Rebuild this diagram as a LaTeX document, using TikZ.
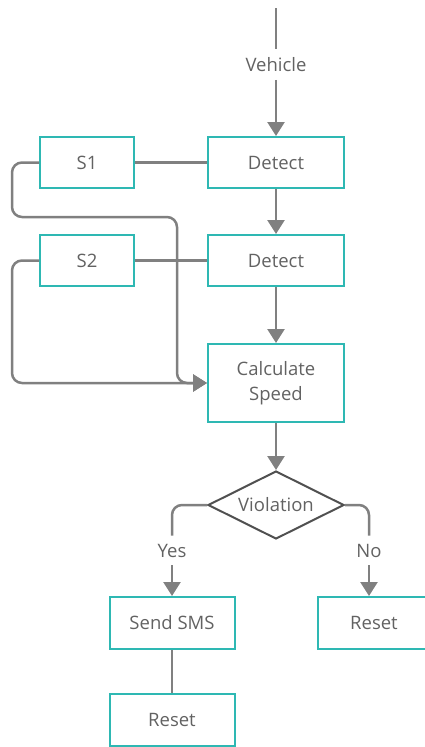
\documentclass[tikz,border=0pt]{standalone}
\usepackage{fontspec}
\setmainfont{Open Sans}
\usetikzlibrary{shapes.geometric, arrows.meta, positioning}
\definecolor{boxteal}{RGB}{46,184,179}
\definecolor{linegray}{RGB}{128,128,128}
\definecolor{textgray}{RGB}{98,98,98}
\definecolor{diagray}{RGB}{80,80,80}

\begin{document}
\begin{tikzpicture}[
    x=1pt, y=-1pt,
    font=\fontsize{18.5}{25}\selectfont,
    text=textgray,
    box/.style={rectangle, draw=boxteal, line width=2pt, minimum width=136pt, minimum height=51pt, text centered, align=center},
    sensor/.style={box, minimum width=94pt},
    decision/.style={diamond, draw=diagray, line width=2pt, aspect=2, inner sep=0pt, minimum width=136pt, minimum height=68pt},
    lbl/.style={inner sep=8pt},
    link/.style={draw=linegray, line width=2.5pt},
    arrow/.style={link, -{Triangle[width=17pt,length=14pt]}}
]
\useasboundingbox (0,0) rectangle (425,747);

% Main column
\node[box] (det1) at (276,162.5) {Detect};
\node[box, below=45pt of det1] (det2) {Detect};
\node[box, minimum height=78pt, below=56pt of det2] (calc) {Calculate\\Speed};
\node[decision, below=47pt of calc] (viol) {Violation};

% Sensors
\node[sensor, left=72pt of det1] (s1) {S1};
\node[sensor, left=72pt of det2] (s2) {S2};

% Outcomes
\node[box, minimum width=125pt, minimum height=52pt, below=56pt of viol, xshift=-104pt] (sms) {Send SMS};
\node[box, minimum width=112pt, minimum height=52pt, below=56pt of viol, xshift=98pt] (reset1) {Reset};
\node[box, minimum width=125pt, minimum height=52pt, below=43pt of sms] (reset2) {Reset};

% Labels on the lines
\coordinate (top) at (276,8);
\node[lbl] (veh) at (276,64.5) {Vehicle};
\node[lbl] (yes) at (172,550.5) {Yes};
\node[lbl] (no) at (369,550.5) {No};
\coordinate (s1turn) at (12,217);

% Arrows
\draw[link] (top) -- (veh);
\draw[arrow] (veh) -- (det1);
\draw[arrow] (det1) -- (det2);
\draw[arrow] (det2) -- (calc);
\draw[arrow] (calc) -- (viol);
\draw[link] (s1) -- (det1);
\draw[link] (s2) -- (det2);
\draw[arrow, rounded corners=10pt] (s1.west) -| (s1turn) -| ([xshift=-30pt]calc.west) -- (calc.west);
\draw[arrow, rounded corners=10pt] (s2.west) -- ++(-27,0) |- (calc.west);
\draw[link, rounded corners=10pt] (viol.west) -| (yes);
\draw[arrow] (yes) -- (sms);
\draw[link, rounded corners=10pt] (viol.east) -| (no);
\draw[arrow] (no) -- (no |- reset1.north);
\draw[link] (sms) -- (reset2);

\end{tikzpicture}
\end{document}
